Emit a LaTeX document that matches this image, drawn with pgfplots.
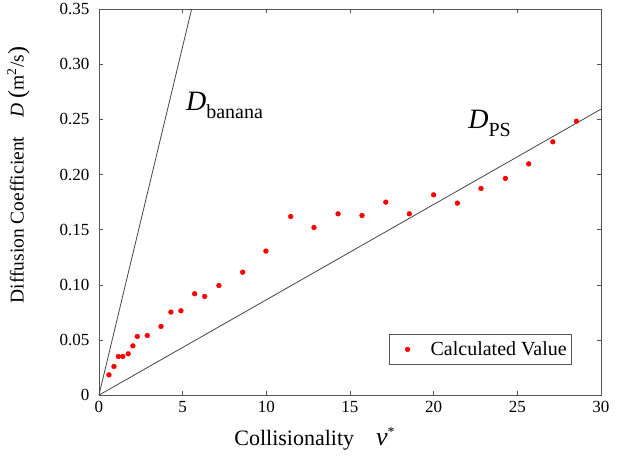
\documentclass[border=0pt]{standalone}
\usepackage{fontspec}
\setmainfont{Liberation Serif}
\usepackage{pgfplots}
\pgfplotsset{compat=1.18}

\definecolor{framegray}{HTML}{555555}
\definecolor{linegray}{HTML}{444444}

\begin{document}
\begin{tikzpicture}
\begin{axis}[
  scale only axis,
  width=502pt,
  height=386pt,
  xmin=0, xmax=30,
  ymin=0, ymax=0.35,
  xtick={0,5,10,15,20,25,30},
  xticklabels={0,5,10,15,20,25,30},
  ytick={0,0.05,0.10,0.15,0.20,0.25,0.30,0.35},
  yticklabels={0,0.05,0.10,0.15,0.20,0.25,0.30,0.35},
  tick align=inside,
  major tick length=4pt,
  tick style={framegray, line width=0.6pt},
  axis line style={framegray, line width=0.8pt},
  ticklabel style={font=\fontsize{17}{20}\selectfont},
  xticklabel style={yshift=-3pt},
  yticklabel style={xshift=-6pt},
  xlabel={Collisionality\quad\fontsize{26}{28}\selectfont\textit{ν}\textsuperscript{\fontsize{14}{16}\selectfont *}},
  xlabel style={font=\fontsize{22}{26}\selectfont, at={(axis description cs:0.43,-0.075)}, anchor=north},
  ylabel={Diffusion Coefficient\quad\textit{D}\ \raisebox{-1pt}{\fontsize{24}{26}\selectfont(}m\textsuperscript{2}/s\raisebox{-1pt}{\fontsize{24}{26}\selectfont)}},
  ylabel style={font=\fontsize{19.5}{22}\selectfont, at={(axis description cs:-0.19,0.57)}, anchor=north},
  clip=false,
  legend image code/.code={
    \path[draw=none] (0pt,0pt) -- (36pt,0pt);
    \draw[#1] plot coordinates {(16pt,0pt)};
  },
  legend style={
    at={(axis description cs:0.942,0.08)},
    anchor=south east,
    draw=framegray,
    fill=white,
    font=\fontsize{20}{22}\selectfont,
    inner xsep=2pt, inner ysep=5pt,
    legend cell align=left,
    nodes={inner xsep=3pt},
  },
]
\addplot[linegray, line width=0.8pt, forget plot] coordinates {(0,0) (5.54,0.35)};
\addplot[linegray, line width=0.8pt, forget plot] coordinates {(0,0) (30,0.2593)};
\addplot[only marks, mark=*, mark size=2.4pt, color=red, mark options={fill=red, draw=red}] coordinates {
  (0.60,0.0184) (0.90,0.0260) (1.16,0.0351) (1.43,0.0351) (1.75,0.0375)
  (2.03,0.0447) (2.29,0.0532) (2.89,0.0541) (3.71,0.0623) (4.30,0.0753)
  (4.90,0.0765) (5.72,0.0919) (6.32,0.0895) (7.17,0.0994) (8.59,0.1115)
  (9.98,0.1306) (11.46,0.1620) (12.85,0.1520) (14.29,0.1644) (15.72,0.1629)
  (17.14,0.1750) (18.55,0.1644) (20.00,0.1816) (21.42,0.1741) (22.83,0.1874)
  (24.29,0.1965) (25.68,0.2097) (27.12,0.2297) (28.53,0.2484)
};
\addlegendentry{Calculated Value}

\node[anchor=base west, inner sep=0pt] at (axis cs:5.2,0.2584)
  {\fontsize{28}{30}\selectfont\textit{D}\raisebox{-8pt}{\fontsize{20}{22}\selectfont banana}};
\node[anchor=base west, inner sep=0pt] at (axis cs:22.06,0.2421)
  {\fontsize{28}{30}\selectfont\textit{D}\raisebox{-8pt}{\fontsize{20}{22}\selectfont PS}};

\path (axis description cs:-0.197,-0.1606) rectangle (axis description cs:1.0538,1.0155);
\end{axis}
\end{tikzpicture}
\end{document}
